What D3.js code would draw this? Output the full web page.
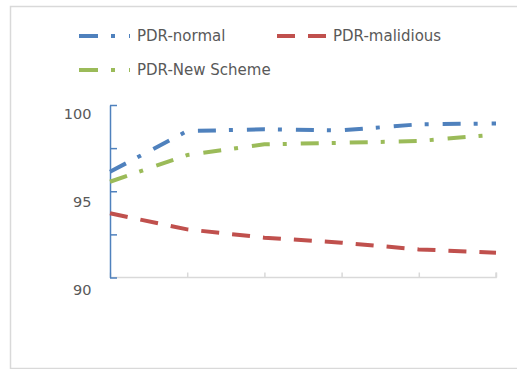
<!DOCTYPE html>
<html>
<head>
<meta charset="utf-8">
<script src="https://cdn.jsdelivr.net/npm/d3@7"></script>
<style>
  html, body { margin: 0; padding: 0; background: #fff; }
  svg { display: block; }
  text { font-family: "DejaVu Sans", sans-serif; fill: #595959; }
</style>
</head>
<body>
<script>
// Measurement points along the x axis (no labels are shown for them)
const categories = ["1", "2", "3", "4", "5", "6"];

// Packet delivery ratio (%) per series
const pdrNormal    = [96.13, 98.49, 98.59, 98.53, 98.88, 98.93];
const pdrMalicious = [93.72, 92.79, 92.31, 92.02, 91.63, 91.44];
const pdrNewScheme = [95.55, 97.10, 97.72, 97.81, 97.91, 98.29];

const seriesNames = ["PDR-normal", "PDR-malidious", "PDR-New Scheme"];

// Axis ticks: minor marks every 2.5, labels only on multiples of 5
const yTickValues  = [90, 92.5, 95, 97.5, 100];
const yLabelValues = [90, 95, 100];

const W = 517, H = 369;
const svg = d3.select("body").append("svg").attr("width", W).attr("height", H);

// Chart frame (open on the right side)
svg.append("path")
  .attr("d", `M${W},6.5 H10.5 V368.5 H${W}`)
  .attr("fill", "none")
  .attr("stroke", "#d9d9d9")
  .attr("stroke-width", 1.5);

const x = d3.scalePoint().domain(categories).range([110, 496]);
const y = d3.scaleLinear().domain([90, 100]).range([277.5, 105]);
// tick labels sit slightly below their tick marks
const yLabel = d3.scaleLinear().domain([90, 100]).range([290, 113.3]);

const series = [
  { name: seriesNames[0], values: pdrNormal,    color: "#4F81BD", dash: "18,13,4,14" },
  { name: seriesNames[1], values: pdrMalicious, color: "#C0504D", dash: "18,13" },
  { name: seriesNames[2], values: pdrNewScheme, color: "#9BBB59", dash: "18,13,4,14" }
];

// X axis: light grey line with short upward ticks, no labels
const xAxis = svg.append("g")
  .attr("transform", `translate(0,${y(90)})`)
  .call(d3.axisTop(x).tickSize(5).tickFormat(""));
xAxis.select(".domain").attr("d", `M${x.range()[0]},0H${x.range()[1]}V-5`)
  .attr("stroke", "#d9d9d9").attr("stroke-width", 1.5);
xAxis.selectAll(".tick line").attr("stroke", "#d9d9d9").attr("stroke-width", 1.5);

// Y axis: blue line with inward ticks
const yAxis = svg.append("g")
  .attr("transform", `translate(${x.range()[0]},0)`)
  .call(d3.axisRight(y).tickValues(yTickValues).tickSize(7).tickSizeOuter(0).tickFormat(""));
yAxis.select(".domain").attr("stroke", "#4F81BD").attr("stroke-width", 1.5);
yAxis.selectAll(".tick line").attr("stroke", "#4F81BD").attr("stroke-width", 1.5);

// Y tick labels
svg.append("g").selectAll("text")
  .data(yLabelValues)
  .join("text")
  .attr("x", 91.5)
  .attr("y", d => yLabel(d))
  .attr("dy", "0.36em")
  .attr("text-anchor", "end")
  .attr("font-size", 14.5)
  .text(d => d3.format("d")(d));

// Series lines
const line = d3.line()
  .x((d, i) => x(categories[i]))
  .y(d => y(d));

svg.append("g").selectAll("path")
  .data(series)
  .join("path")
  .attr("d", d => line(d.values))
  .attr("fill", "none")
  .attr("stroke", d => d.color)
  .attr("stroke-width", 4)
  .attr("stroke-dasharray", d => d.dash)
  .attr("stroke-linejoin", "round");

// Legend
const legendPos = [
  { x: 79, y: 36 },
  { x: 277, y: 36 },
  { x: 79, y: 70 }
];
const legend = svg.append("g").selectAll("g")
  .data(series)
  .join("g")
  .attr("transform", (d, i) => `translate(${legendPos[i].x},${legendPos[i].y})`);

legend.append("line")
  .attr("x1", 0).attr("x2", (d, i) => i === 1 ? 50 : 51)
  .attr("y1", 0).attr("y2", 0)
  .attr("stroke", d => d.color)
  .attr("stroke-width", 4)
  .attr("stroke-dasharray", (d, i) => i === 1 ? "18,13" : "19,13,4,14");

legend.append("text")
  .attr("x", (d, i) => i === 1 ? 56 : 58)
  .attr("y", 0)
  .attr("dy", "0.36em")
  .attr("font-size", 15)
  .text(d => d.name);
</script>
</body>
</html>
